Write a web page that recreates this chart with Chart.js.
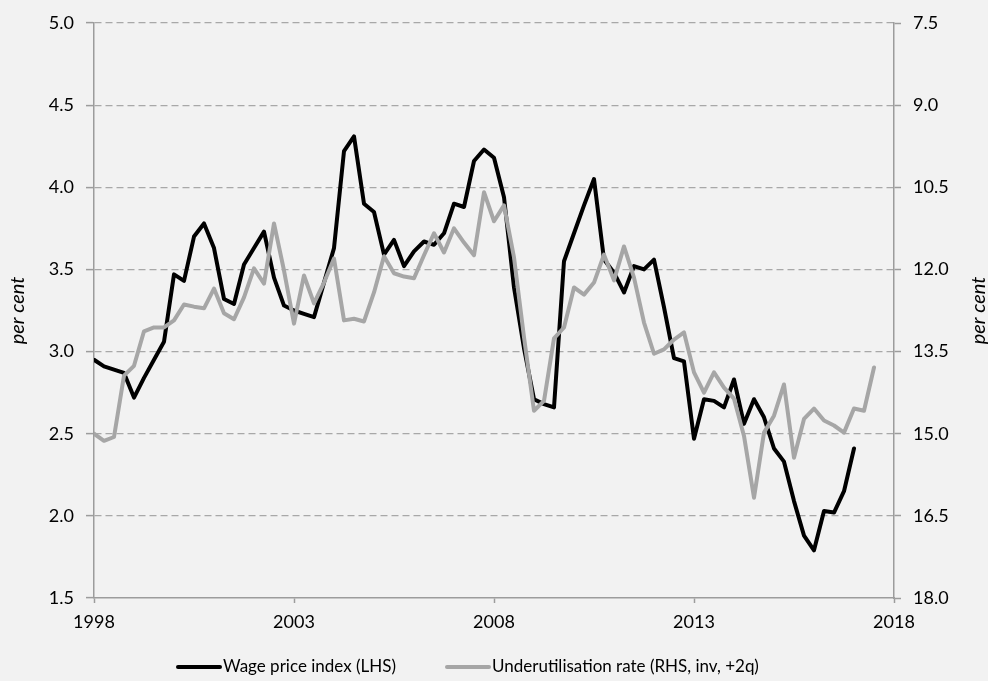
<!DOCTYPE html>
<html>
<head>
<meta charset="utf-8">
<script src="https://cdn.jsdelivr.net/npm/chart.js@4.4.1/dist/chart.umd.min.js"></script>
<style>
html,body{margin:0;padding:0;background:#f2f2f2;}
#wrap{width:988px;height:681px;position:relative;}
canvas{display:block;}
</style>
</head>
<body>
<div id="wrap"><canvas id="c" width="988" height="681"></canvas></div>
<script>
// ---- Data ----
const quarters = [
  "1998Q1","1998Q2","1998Q3","1998Q4","1999Q1","1999Q2","1999Q3","1999Q4",
  "2000Q1","2000Q2","2000Q3","2000Q4","2001Q1","2001Q2","2001Q3","2001Q4",
  "2002Q1","2002Q2","2002Q3","2002Q4","2003Q1","2003Q2","2003Q3","2003Q4",
  "2004Q1","2004Q2","2004Q3","2004Q4","2005Q1","2005Q2","2005Q3","2005Q4",
  "2006Q1","2006Q2","2006Q3","2006Q4","2007Q1","2007Q2","2007Q3","2007Q4",
  "2008Q1","2008Q2","2008Q3","2008Q4","2009Q1","2009Q2","2009Q3","2009Q4",
  "2010Q1","2010Q2","2010Q3","2010Q4","2011Q1","2011Q2","2011Q3","2011Q4",
  "2012Q1","2012Q2","2012Q3","2012Q4","2013Q1","2013Q2","2013Q3","2013Q4",
  "2014Q1","2014Q2","2014Q3","2014Q4","2015Q1","2015Q2","2015Q3","2015Q4",
  "2016Q1","2016Q2","2016Q3","2016Q4","2017Q1","2017Q2","2017Q3"
];

// Wage price index, year-ended growth, per cent (LHS)
const wagePriceIndex = [
  2.95, 2.91, 2.89, 2.87, 2.72, 2.84, 2.95, 3.06,
  3.47, 3.43, 3.70, 3.78, 3.63, 3.32, 3.29, 3.53,
  3.63, 3.73, 3.45, 3.28, 3.25, 3.23, 3.21, 3.42,
  3.63, 4.22, 4.31, 3.90, 3.85, 3.59, 3.68, 3.52,
  3.61, 3.67, 3.65, 3.72, 3.90, 3.88, 4.16, 4.23,
  4.18, 3.94, 3.39, 3.02, 2.71, 2.68, 2.66, 3.55,
  3.72, 3.89, 4.05, 3.56, 3.48, 3.36, 3.52, 3.50,
  3.56, 3.27, 2.96, 2.94, 2.47, 2.71, 2.70, 2.66,
  2.83, 2.56, 2.71, 2.60, 2.41, 2.33, 2.09, 1.88,
  1.79, 2.03, 2.02, 2.15, 2.41
];

// Underutilisation rate, per cent (RHS, inverted, shifted +2 quarters)
const underutilisation = [
  15.00, 15.13, 15.06, 13.94, 13.76, 13.13, 13.06, 13.06,
  12.93, 12.64, 12.68, 12.71, 12.35, 12.80, 12.91, 12.51,
  11.98, 12.26, 11.16, 12.02, 12.99, 12.11, 12.62, 12.24,
  11.80, 12.93, 12.90, 12.95, 12.42, 11.76, 12.07, 12.13,
  12.16, 11.74, 11.34, 11.69, 11.25, 11.51, 11.74, 10.59,
  11.12, 10.83, 11.78, 13.24, 14.58, 14.40, 13.26, 13.06,
  12.33, 12.46, 12.24, 11.73, 12.20, 11.58, 12.15, 12.97,
  13.54, 13.46, 13.28, 13.15, 13.88, 14.25, 13.88, 14.16,
  14.36, 15.04, 16.17, 14.98, 14.67, 14.10, 15.44, 14.73,
  14.54, 14.76, 14.85, 14.98, 14.54, 14.58, 13.79
];

const xTickYears = [1998, 2003, 2008, 2013, 2018];
const leftTicks = [1.5, 2.0, 2.5, 3.0, 3.5, 4.0, 4.5, 5.0];
const rightTicks = [7.5, 9.0, 10.5, 12.0, 13.5, 15.0, 16.5, 18.0];

const seriesLabels = ["Wage price index (LHS)", "Underutilisation rate (RHS, inv, +2q)"];
const axisTitle = "per cent";

// ---- helpers ----
function quarterToX(q) {
  const year = parseInt(q.slice(0, 4), 10);
  const qn = parseInt(q.slice(5), 10);
  return year + (qn - 1) / 4;
}
function toPoints(values) {
  return values.map((v, i) => ({ x: quarterToX(quarters[i]), y: v }));
}

const BLACK = "#000000";
const GREY = "#a6a6a6";
const AXIS = "#9c9c9c";
const GRID = "#a8a8a8";
const TICK_FONT = { family: "Lato, 'Open Sans', sans-serif", size: 18 };

const bgPlugin = {
  id: "bg",
  beforeDraw(chart) {
    const ctx = chart.ctx;
    ctx.save();
    ctx.fillStyle = "#f2f2f2";
    ctx.fillRect(0, 0, chart.width, chart.height);
    ctx.restore();
  }
};

const decorPlugin = {
  id: "decor",
  afterDraw(chart) {
    const ctx = chart.ctx;
    const area = chart.chartArea;
    const midY = (area.top + area.bottom) / 2;
    ctx.save();
    // axis titles, both reading bottom-to-top
    ctx.fillStyle = "#000";
    ctx.font = "italic 20px Lato, 'Open Sans', sans-serif";
    ctx.textAlign = "center";
    ctx.textBaseline = "middle";
    [18, 979].forEach(x => {
      ctx.save();
      ctx.translate(x, midY);
      ctx.rotate(-Math.PI / 2);
      ctx.fillText(axisTitle, 0, 0);
      ctx.restore();
    });
    // legend
    const y = 667;
    ctx.font = "17px Lato, 'Open Sans', sans-serif";
    ctx.textAlign = "left";
    const starts = [178, 447];
    chart.data.datasets.forEach((ds, i) => {
      const x0 = starts[i];
      ctx.strokeStyle = ds.borderColor;
      ctx.lineWidth = 4;
      ctx.lineCap = "round";
      ctx.beginPath();
      ctx.moveTo(x0, y);
      ctx.lineTo(x0 + 42, y);
      ctx.stroke();
      ctx.fillStyle = "#000";
      ctx.fillText(ds.label, x0 + 45, y);
    });
    ctx.restore();
  }
};

new Chart(document.getElementById("c"), {
  type: "line",
  data: {
    datasets: [
      {
        label: seriesLabels[0],
        data: toPoints(wagePriceIndex),
        yAxisID: "y",
        borderColor: BLACK,
        backgroundColor: BLACK,
        borderWidth: 4,
        pointRadius: 0,
        tension: 0,
        borderJoinStyle: "round",
        borderCapStyle: "round",
        order: 1
      },
      {
        label: seriesLabels[1],
        data: toPoints(underutilisation),
        yAxisID: "y2",
        borderColor: GREY,
        backgroundColor: GREY,
        borderWidth: 4,
        pointRadius: 0,
        tension: 0,
        borderJoinStyle: "round",
        borderCapStyle: "round",
        order: 0
      }
    ]
  },
  options: {
    responsive: false,
    animation: false,
    devicePixelRatio: 1,
    layout: { padding: { top: 23, left: 0, right: 0, bottom: 0 } },
    plugins: {
      legend: { display: false },
      tooltip: { enabled: false }
    },
    scales: {
      x: {
        type: "linear",
        min: 1998,
        max: 2018,
        afterBuildTicks: s => { s.ticks = xTickYears.map(v => ({ value: v })); },
        afterFit: s => { s.height = 83; },
        ticks: {
          font: TICK_FONT,
          color: "#000",
          padding: 8,
          maxRotation: 0,
          callback: v => String(v)
        },
        grid: {
          display: true,
          drawOnChartArea: false,
          drawTicks: true,
          tickLength: 5,
          tickColor: AXIS,
          tickWidth: 1.5
        },
        border: { display: true, color: AXIS, width: 1.5 }
      },
      y: {
        position: "left",
        min: 1.5,
        max: 5.0,
        afterBuildTicks: s => { s.ticks = leftTicks.map(v => ({ value: v })); },
        afterFit: s => { s.width = 94; },
        ticks: {
          font: TICK_FONT,
          color: "#000",
          padding: 12,
          callback: v => Number(v).toFixed(1)
        },
        grid: {
          color: c => (c.tick && c.tick.value === 1.5) ? "rgba(0,0,0,0)" : GRID,
          lineWidth: 1.2,
          drawTicks: true,
          tickLength: 8,
          tickColor: AXIS,
          tickWidth: 1.5,
          tickBorderDash: []
        },
        border: { display: true, color: AXIS, width: 1.5, dash: [7, 4] }
      },
      y2: {
        position: "right",
        reverse: true,
        min: 7.5,
        max: 18.0,
        afterBuildTicks: s => { s.ticks = rightTicks.map(v => ({ value: v })); },
        afterFit: s => { s.width = 94; },
        ticks: {
          font: TICK_FONT,
          color: "#000",
          padding: 12,
          callback: v => Number(v).toFixed(1)
        },
        grid: {
          drawOnChartArea: false,
          drawTicks: true,
          tickLength: 7,
          tickColor: AXIS,
          tickWidth: 1.5,
          tickBorderDash: []
        },
        border: { display: true, color: AXIS, width: 1.5 }
      }
    }
  },
  plugins: [bgPlugin, decorPlugin]
});
</script>
</body>
</html>
